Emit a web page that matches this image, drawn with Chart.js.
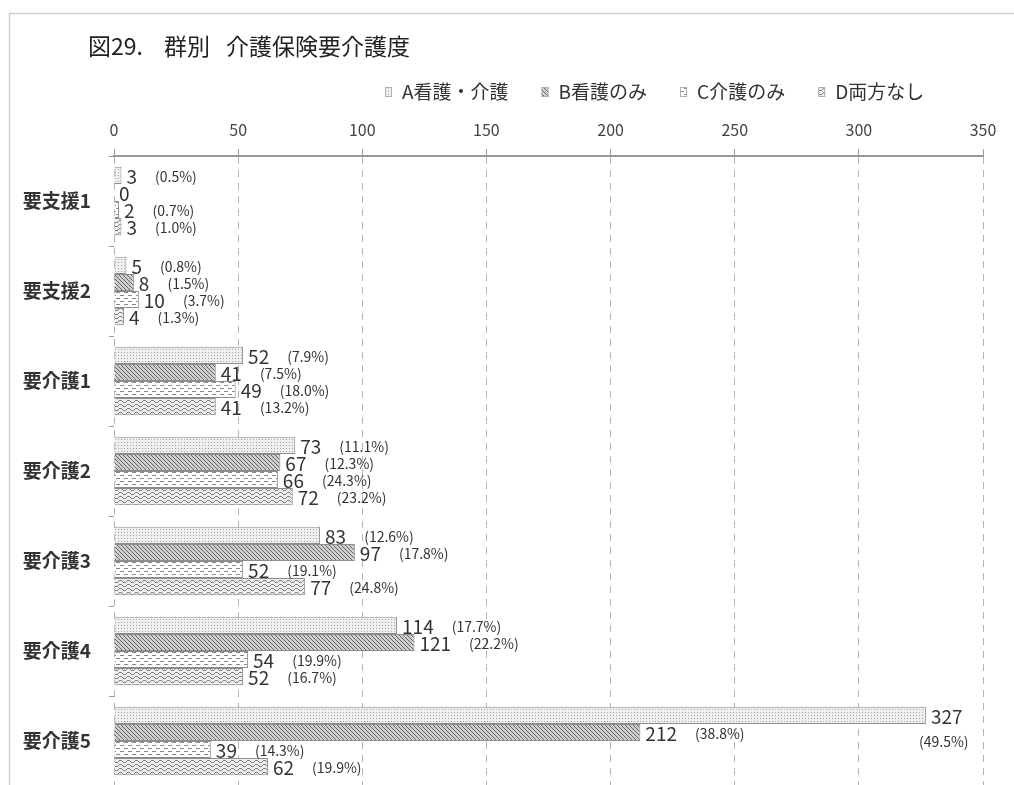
<!DOCTYPE html>
<html lang="ja">
<head>
<meta charset="utf-8">
<title>群別 介護保険要介護度</title>
<script src="https://cdn.jsdelivr.net/npm/chart.js@4.4.1/dist/chart.umd.min.js"></script>
<style>
  html, body { margin: 0; padding: 0; background: #fff; overflow: hidden; }
  #wrap { position: absolute; left: 0; top: 0; width: 1014px; height: 792px; }
</style>
</head>
<body>
<div id="wrap"><canvas id="careChart" width="1014" height="792"></canvas></div>
<script>
// 要介護度ごとの人数と各群内の割合
const categories = ['要支援1', '要支援2', '要介護1', '要介護2', '要介護3', '要介護4', '要介護5'];
const seriesNames = ['A看護・介護', 'B看護のみ', 'C介護のみ', 'D両方なし'];

const countsA = [3, 5, 52, 73, 83, 114, 327];
const countsB = [0, 8, 41, 67, 97, 121, 212];
const countsC = [2, 10, 49, 66, 52, 54, 39];
const countsD = [3, 4, 41, 72, 77, 52, 62];

const pctA = [0.5, 0.8, 7.9, 11.1, 12.6, 17.7, 49.5];
const pctB = [null, 1.5, 7.5, 12.3, 17.8, 22.2, 38.8];
const pctC = [0.7, 3.7, 18.0, 24.3, 19.1, 19.9, 14.3];
const pctD = [1.0, 1.3, 13.2, 23.2, 24.8, 16.7, 19.9];

const axisMin = 0;
const axisMax = 350;
const axisStep = 50;

const FONT = "'Noto Sans CJK JP', 'Noto Sans', sans-serif";
const canvas = document.getElementById('careChart');
const ctx = canvas.getContext('2d');

// small tiles used as hatch fills
function makePattern(w, h, paint) {
    const tile = document.createElement('canvas');
    tile.width = w;
    tile.height = h;
    paint(tile.getContext('2d'));
    return ctx.createPattern(tile, 'repeat');
}

const fillA = makePattern(3, 3, g => {
    g.fillStyle = '#efefef'; g.fillRect(0, 0, 3, 3);
    g.fillStyle = '#a4a4a4'; g.fillRect(1, 1, 1, 1);
});
const fillB = makePattern(4, 4, g => {
    g.fillStyle = '#cfcfcf'; g.fillRect(0, 0, 4, 4);
    g.fillStyle = '#666666';
    for (let i = 0; i < 4; i++) g.fillRect(i, i, 1, 1);
});
const fillC = makePattern(8, 6, g => {
    g.fillStyle = '#ffffff'; g.fillRect(0, 0, 8, 6);
    g.fillStyle = '#888888';
    g.fillRect(0, 1, 4, 1);
    g.fillRect(4, 4, 4, 1);
});
const fillD = makePattern(8, 4, g => {
    g.fillStyle = '#eeeeee'; g.fillRect(0, 0, 8, 4);
    g.fillStyle = '#808080';
    const wave = [0, 0, 1, 2, 2, 2, 1, 0];
    wave.forEach((y, x) => g.fillRect(x, y, 1, 1));
});

const fills = [fillA, fillB, fillC, fillD];
const counts = [countsA, countsB, countsC, countsD];
const pcts = [pctA, pctB, pctC, pctD];

const datasets = seriesNames.map((name, i) => ({
    label: name,
    data: counts[i],
    percents: pcts[i],
    backgroundColor: fills[i],
    borderColor: '#8c8c8c',
    borderWidth: 1,
    categoryPercentage: 0.76,
    barPercentage: 1.0
}));

// grey frame around the figure
const framePlugin = {
    id: 'frame',
    beforeDraw(chart) {
        const c = chart.ctx;
        c.save();
        c.fillStyle = '#ffffff';
        c.fillRect(0, 0, chart.width, chart.height);
        c.strokeStyle = '#cfcfcf';
        c.lineWidth = 1.5;
        c.beginPath();
        c.moveTo(9.5, chart.height);
        c.lineTo(9.5, 13.5);
        c.lineTo(chart.width, 13.5);
        c.stroke();
        c.restore();
    }
};

// title and legend row above the axis
const headerPlugin = {
    id: 'header',
    afterDraw(chart) {
        const c = chart.ctx;
        c.save();
        c.fillStyle = '#222';
        c.font = `23px ${FONT}`;
        c.textBaseline = 'middle';
        c.fillText('図29.', 88, 46);
        c.fillText('群別', 164, 46);
        c.fillText('介護保険要介護度', 226, 46);

        c.font = `19px ${FONT}`;
        let x = 385;
        chart.data.datasets.forEach(ds => {
            c.fillStyle = ds.backgroundColor;
            c.fillRect(x, 87, 7, 10);
            c.strokeStyle = '#b0b0b0';
            c.lineWidth = 1;
            c.strokeRect(x + 0.5, 87.5, 6, 9);
            c.fillStyle = '#333';
            c.fillText(ds.label, x + 17, 92);
            x += 17 + c.measureText(ds.label).width + 33;
        });
        c.restore();
    }
};

// count and share written next to each bar
const valueLabelPlugin = {
    id: 'valueLabels',
    afterDatasetsDraw(chart) {
        const c = chart.ctx;
        c.save();
        c.textBaseline = 'middle';
        c.fillStyle = '#333';
        chart.data.datasets.forEach((ds, di) => {
            const meta = chart.getDatasetMeta(di);
            meta.data.forEach((bar, i) => {
                const value = ds.data[i];
                const pct = ds.percents[i];
                const vx = bar.x + 5;
                c.font = `19px ${FONT}`;
                c.textAlign = 'left';
                c.fillText(String(value), vx, bar.y + 1);
                const vw = c.measureText(String(value)).width;
                if (pct === null) return;
                const text = `(${pct.toFixed(1)}%)`;
                c.font = `14px ${FONT}`;
                const pw = c.measureText(text).width;
                if (vx + vw + 18 + pw > chart.width - 8) {
                    c.textAlign = 'right';
                    c.fillText(text, vx + vw + 6, bar.y + 26);
                } else {
                    c.fillText(text, vx + vw + 18, bar.y + 1);
                }
            });
        });
        c.restore();
    }
};

new Chart(ctx, {
    type: 'bar',
    data: { labels: categories, datasets: datasets },
    options: {
        indexAxis: 'y',
        responsive: false,
        animation: false,
        devicePixelRatio: 1,
        layout: { padding: { left: 10, right: 31, top: 116, bottom: 6 } },
        plugins: {
            legend: { display: false },
            title: { display: false },
            tooltip: { enabled: false }
        },
        scales: {
            x: {
                position: 'top',
                min: axisMin,
                max: axisMax,
                afterFit(scale) { scale.height = 40; },
                ticks: {
                    stepSize: axisStep,
                    color: '#444',
                    padding: 9,
                    font: { family: FONT, size: 16 }
                },
                grid: {
                    color: '#b4b4b4',
                    lineWidth: 1,
                    tickLength: 7,
                    tickColor: '#9a9a9a'
                },
                border: { display: true, color: '#9a9a9a', width: 2, dash: [7, 6] }
            },
            y: {
                afterFit(scale) {
                    scale.width = 104;
                    scale.paddingTop = 0;
                    scale.paddingBottom = 0;
                },
                ticks: {
                    color: '#333',
                    padding: 18,
                    font: { family: FONT, size: 19, weight: 'bold' }
                },
                grid: {
                    drawOnChartArea: false,
                    tickLength: 5,
                    color: '#9a9a9a'
                },
                border: { display: false }
            }
        }
    },
    plugins: [framePlugin, headerPlugin, valueLabelPlugin]
});
</script>
</body>
</html>
